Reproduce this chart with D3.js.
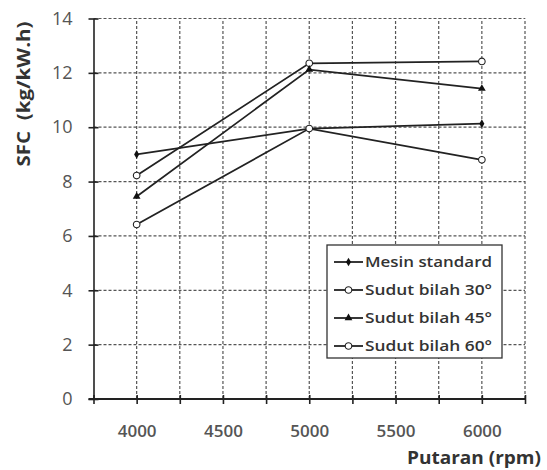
<!DOCTYPE html>
<html><head><meta charset="utf-8">
<script src="https://cdn.jsdelivr.net/npm/d3@7/dist/d3.min.js"></script>
<style>body{margin:0;background:#fff}svg{display:block}</style>
</head><body><svg id="c" width="547" height="470"></svg>
<script>
const rpm = [4000, 5000, 6000];
const mesinStandard = [9.0, 9.95, 10.13];
const sudut30 = [8.22, 12.35, 12.42];
const sudut45 = [7.45, 12.12, 11.42];
const sudut60 = [6.42, 9.95, 8.8];
const seriesNames = ["Mesin standard", "Sudut bilah 30°", "Sudut bilah 45°", "Sudut bilah 60°"];
const seriesMarkers = ["diamond", "circle", "triangle", "circle"];
const xTicks = [3750, 4000, 4250, 4500, 4750, 5000, 5250, 5500, 5750, 6000, 6250];
const xLabels = [4000, 4500, 5000, 5500, 6000];
const yTicks = [0, 2, 4, 6, 8, 10, 12, 14];

const series = [mesinStandard, sudut30, sudut45, sudut60].map((v, i) => ({
  name: seriesNames[i], marker: seriesMarkers[i], values: v
}));

const svg = d3.select("#c");
const x = d3.scaleLinear().domain([3750, 6250]).range([93.5, 525]);
const y = d3.scaleLinear().domain([0, 14]).range([399, 18.5]);
const font = "'Open Sans', 'DejaVu Sans', sans-serif";

// gridlines
const grid = svg.append("g").attr("stroke", "#555").attr("stroke-width", 1.2).attr("stroke-dasharray", "3,2");
grid.selectAll("line.v").data(xTicks.slice(1)).join("line")
  .attr("x1", d => x(d)).attr("x2", d => x(d)).attr("y1", y(0)).attr("y2", y(14));
grid.selectAll("line.h").data(yTicks.slice(1)).join("line")
  .attr("y1", d => y(d)).attr("y2", d => y(d)).attr("x1", x(3750)).attr("x2", x(6250));

// axes
const yAxis = svg.append("g").attr("transform", `translate(${x(3750)},0)`)
  .call(d3.axisLeft(y).tickValues(yTicks).tickSize(0).tickPadding(21).tickFormat(d3.format("d")));
yAxis.select(".domain").attr("stroke", "#222").attr("stroke-width", 1.6);
yAxis.selectAll(".tick").append("line").attr("x1", -5).attr("x2", 5).attr("stroke", "#222").attr("stroke-width", 1.6);
yAxis.selectAll("text").attr("font-family", font).attr("font-size", 18).attr("fill", "#555");

const xAxis = svg.append("g").attr("transform", `translate(0,${y(0)})`)
  .call(d3.axisBottom(x).tickValues(xTicks).tickSize(0).tickPadding(26).tickFormat(d => xLabels.includes(d) ? d : ""));
xAxis.select(".domain").attr("stroke", "#222").attr("stroke-width", 1.8).attr("d", `M${x(3750)-5},0H${x(6250)}`);
xAxis.selectAll(".tick").append("line").attr("y1", -4).attr("y2", 5).attr("stroke", "#222").attr("stroke-width", 1.6);
xAxis.selectAll("text").attr("font-family", font).attr("font-size", 17).attr("font-weight", 600).attr("fill", "#555");

// axis titles
svg.append("text").attr("transform", "translate(30,94) rotate(-90)").attr("text-anchor", "middle")
  .attr("font-family", font).attr("font-size", 17).attr("font-weight", "bold").attr("fill", "#333")
  .style("white-space", "pre")
  .attr("textLength", 145).attr("lengthAdjust", "spacingAndGlyphs")
  .text("SFC  (kg/kW.h)");
svg.append("text").attr("x", 541).attr("y", 464).attr("text-anchor", "end")
  .attr("font-family", font).attr("font-size", 18).attr("font-weight", "bold").attr("fill", "#333")
  .attr("textLength", 134).attr("lengthAdjust", "spacingAndGlyphs")
  .text("Putaran (rpm)");

// lines
const line = d3.line().x((d, i) => x(rpm[i])).y(d => y(d));
const markerPath = {
  diamond: d3.symbol().type(d3.symbolDiamond).size(22)(),
  triangle: d3.symbol().type(d3.symbolTriangle).size(26)(),
};
function drawMarker(g, type) {
  if (type === "circle") {
    g.append("circle").attr("r", 3.3).attr("fill", "#fff").attr("stroke", "#222").attr("stroke-width", 1.1);
  } else {
    g.append("path").attr("d", markerPath[type]).attr("fill", "#111");
  }
}
series.forEach(s => {
  svg.append("path").datum(s.values).attr("d", line).attr("fill", "none")
    .attr("stroke", "#222").attr("stroke-width", 1.8);
  s.values.forEach((v, i) => {
    const g = svg.append("g").attr("transform", `translate(${x(rpm[i])},${y(v)})`);
    drawMarker(g, s.marker);
  });
});

// legend
const lg = svg.append("g").attr("transform", "translate(327,245)");
lg.append("rect").attr("width", 175).attr("height", 113).attr("fill", "#fff").attr("stroke", "#333").attr("stroke-width", 1.3);
series.forEach((s, i) => {
  const row = lg.append("g").attr("transform", `translate(0,${17 + i * 28})`);
  row.append("line").attr("x1", 7).attr("x2", 36).attr("stroke", "#222").attr("stroke-width", 1.8);
  drawMarker(row.append("g").attr("transform", "translate(21.5,0)"), s.marker);
  row.append("text").attr("x", 38).attr("y", 5).attr("font-family", font).attr("font-size", 15)
    .attr("font-weight", 600).attr("fill", "#333").attr("textLength", 127)
    .attr("lengthAdjust", "spacingAndGlyphs").text(s.name);
});
</script></body></html>
